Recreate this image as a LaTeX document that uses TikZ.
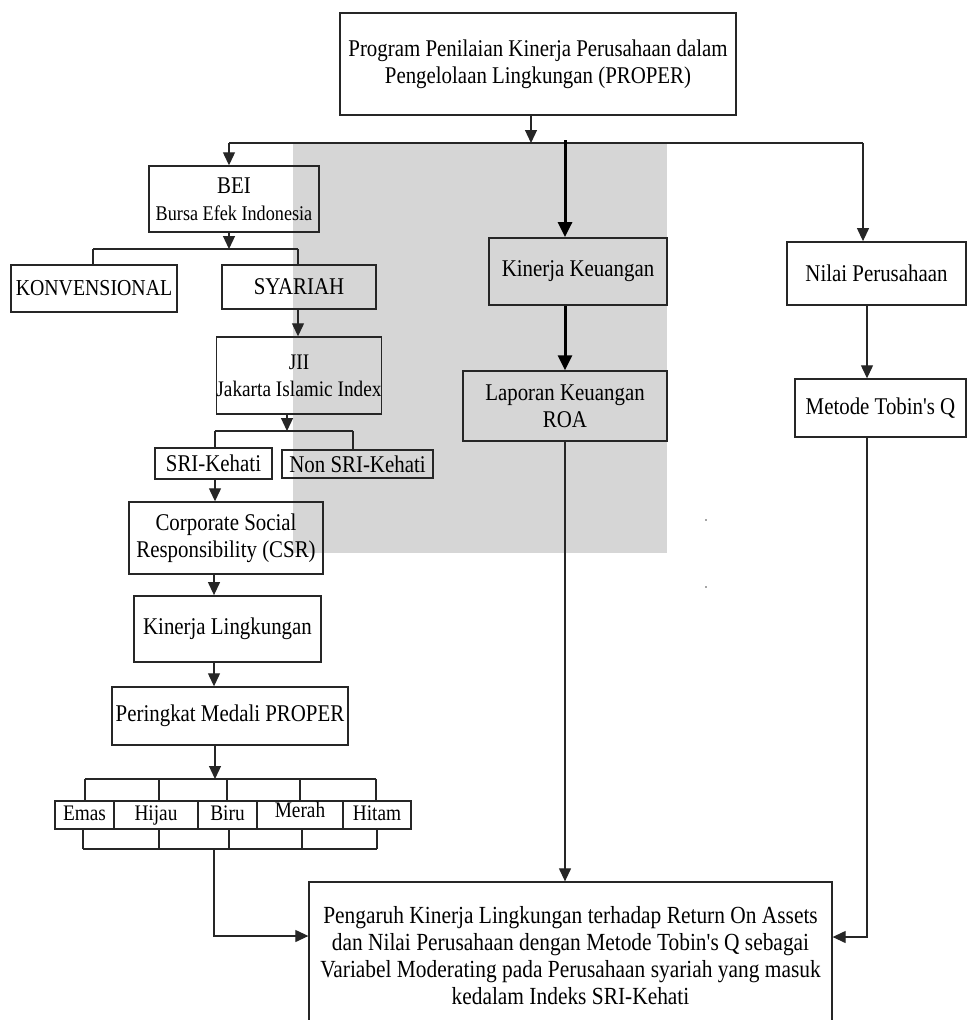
\documentclass[tikz,border=0pt]{standalone}
\usepackage{fontspec}
\setmainfont{Liberation Serif}[FakeStretch=0.87, Ligatures=TeXOff]
\usetikzlibrary{arrows.meta}
\newcommand\fsmain{\fontsize{24}{27}\selectfont}
\newcommand\fssmall{\fontsize{20.9}{24}\selectfont}
\definecolor{wm}{RGB}{214,214,214}
\begin{document}
\begin{tikzpicture}[x=1pt,y=-1pt,
  box/.style={draw=black!85, line width=1.4pt, inner sep=0pt, align=center, font=\fsmain},
  medal/.style={draw=black!85, line width=1.1pt, inner sep=0pt, minimum height=28pt, text height=15pt, text depth=4.5pt, font=\fontsize{22.2}{24}\selectfont},
  conn/.style={draw=black!85, line width=1.2pt},
  arr/.style={conn, -{Triangle[width=12pt,length=13pt]}},
  thickarr/.style={draw=black, line width=3pt, -{Triangle[width=14pt,length=15pt]}}]
\useasboundingbox (0,0) rectangle (968,1020);
\fill[white] (0,0) rectangle (968,1020);
\fill[wm] (293,143) rectangle (667,553);
\fill[black!70] (706,520) circle (0.9);
\fill[black!70] (706,587) circle (0.9);

% nodes
\node[box, line width=2pt, minimum width=396pt, minimum height=102pt] (prog) at (538,64)
  {Program Penilaian Kinerja Perusahaan dalam\\Pengelolaan Lingkungan (PROPER)};
\node[box, minimum width=170pt, minimum height=66pt] (bei) at (234,199)
  {BEI\\{\fssmall Bursa Efek Indonesia}};
\node[box, minimum width=166pt, minimum height=47pt, font=\fontsize{22.8}{24}\selectfont] (konv) at (94,288.5) {KONVENSIONAL};
\node[box, minimum width=154pt, minimum height=44pt] (syar) at (299,287) {SYARIAH};
\node[box, minimum width=164pt, minimum height=77pt, font=\fontsize{22.2}{27}\selectfont] (jii) at (299,375.5) {JII\\Jakarta Islamic Index};
\node[box, minimum width=117pt, minimum height=31pt] (sri) at (213.5,463.5) {SRI-Kehati};
\node[box, minimum width=151pt, minimum height=28pt] (nonsri) at (357.5,464) {Non SRI-Kehati};
\node[box, minimum width=194pt, minimum height=72pt] (csr) at (226,538) {Corporate Social\\Responsibility (CSR)};
\node[box, line width=1.8pt, minimum width=187pt, minimum height=66pt] (kl) at (227.5,629) {Kinerja Lingkungan};
\node[box, minimum width=236pt, minimum height=58pt] (pmp) at (230,716) {Peringkat Medali PROPER};

\node[medal, minimum width=59pt] (emas) at (84.5,815) {Emas};
\node[medal, minimum width=84pt] (hijau) at (156,815) {Hijau};
\node[medal, minimum width=59pt] (biru) at (227.5,815) {Biru};
\node[medal, minimum width=86pt] (merah) at (300,815) {\raisebox{2.5pt}{Merah}};
\node[medal, minimum width=68pt] (hitam) at (377,815) {Hitam};

\node[box, line width=1.8pt, minimum width=178pt, minimum height=67pt] (kk) at (578,271.5) {Kinerja Keuangan};
\node[box, minimum width=204pt, minimum height=70pt] (lap) at (565,406) {Laporan Keuangan\\ROA};
\node[box, line width=1.8pt, minimum width=179pt, minimum height=63pt] (nilai) at (876.5,273.5) {Nilai Perusahaan};
\node[box, minimum width=171pt, minimum height=58pt] (metode) at (880.5,408) {Metode Tobin's Q};

\node[box, line width=1.3pt, minimum width=523pt, minimum height=148pt, font=\fontsize{24.6}{27}\selectfont] (final) at (570.5,956)
  {Pengaruh Kinerja Lingkungan terhadap Return On Assets\\
   dan Nilai Perusahaan dengan Metode Tobin's Q sebagai\\
   Variabel Moderating pada Perusahaan syariah yang masuk\\
   kedalam Indeks SRI-Kehati};

% coordinates
\coordinate (tj) at (531,143);
\coordinate (hl) at (229,143);
\coordinate (hm) at (565,140);
\coordinate (hr) at (863,143);
\coordinate (bj) at (229,249);
\coordinate (bl) at (93,249);
\coordinate (br) at (298,249);
\coordinate (jj) at (287,431);
\coordinate (jl) at (215,431);
\coordinate (jr) at (353,431);
\coordinate (pj) at (215,779);
\coordinate (mt1) at (85,779);
\coordinate (mt2) at (159,779);
\coordinate (mt3) at (227,779);
\coordinate (mt4) at (300,779);
\coordinate (mt5) at (376,779);
\coordinate (mb1) at (83,849);
\coordinate (mb2) at (159,849);
\coordinate (mb3) at (229,849);
\coordinate (mb4) at (302,849);
\coordinate (mb5) at (377,849);
\coordinate (mbj) at (214,849);
\coordinate (lc) at (214,936);
\coordinate (rc) at (867,937);

% connectors
\draw[arr] (prog.south -| tj) -- (tj);
\draw[conn] (hl) -- (hr);
\draw[arr] (hl) -- (bei.north -| hl);
\draw[thickarr] (hm) -- (kk.north -| hm);
\draw[arr] (hr) -- (nilai.north -| hr);

\draw[arr] (bei.south -| bj) -- (bj);
\draw[conn] (bl) -- (br);
\draw[conn] (bl) -- (konv.north -| bl);
\draw[conn] (br) -- (syar.north -| br);
\draw[arr] (syar.south -| br) -- (jii.north -| br);

\draw[arr] (jii.south -| jj) -- (jj);
\draw[conn] (jl) -- (jr);
\draw[conn] (jl) -- (sri.north -| jl);
\draw[conn] (jr) -- (nonsri.north -| jr);
\draw[arr] (sri.south -| jl) -- (csr.north -| jl);
\draw[arr] (csr.south -| mbj) -- (kl.north -| mbj);
\draw[arr] (kl.south -| mbj) -- (pmp.north -| mbj);
\draw[arr] (pmp.south -| pj) -- (pj);

\draw[conn] (mt1) -- (mt5);
\draw[conn] (mt1) -- (emas.north -| mt1);
\draw[conn] (mt2) -- (hijau.north -| mt2);
\draw[conn] (mt3) -- (biru.north -| mt3);
\draw[conn] (mt4) -- (merah.north -| mt4);
\draw[conn] (mt5) -- (hitam.north -| mt5);
\draw[conn] (emas.south -| mb1) -- (mb1);
\draw[conn] (hijau.south -| mb2) -- (mb2);
\draw[conn] (biru.south -| mb3) -- (mb3);
\draw[conn] (merah.south -| mb4) -- (mb4);
\draw[conn] (hitam.south -| mb5) -- (mb5);
\draw[conn] (mb1) -- (mb5);
\draw[arr] (mbj) -- (lc) -- (final.west |- lc);

\draw[thickarr] (kk.south -| hm) -- (lap.north -| hm);
\draw[arr] (lap.south -| hm) -- (final.north -| hm);
\draw[arr] (nilai.south -| rc) -- (metode.north -| rc);
\draw[arr] (metode.south -| rc) -- (rc) -- (final.east |- rc);
\end{tikzpicture}
\end{document}
